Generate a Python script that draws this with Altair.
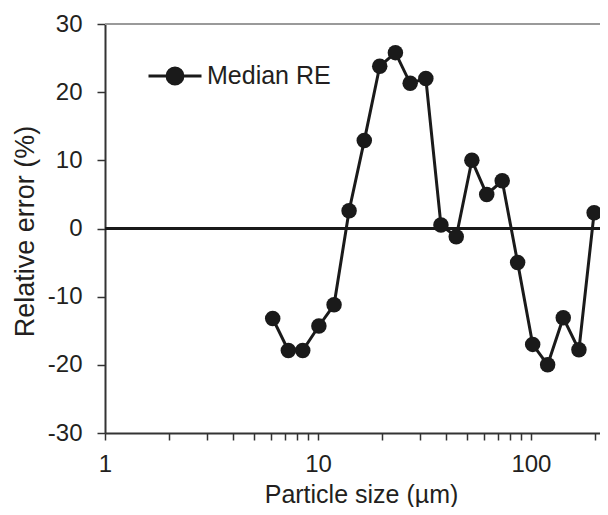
import altair as alt
import pandas as pd

# Particle size (µm) and median relative error (%)
sizes = [6.13, 7.26, 8.48, 10.1, 11.9, 14.0, 16.5, 19.5, 23.1, 27.1, 32.1,
         37.8, 44.6, 52.8, 62.0, 73.3, 86.6, 101.9, 119.8, 141.8, 168.0, 198.0]
median_re = [-13.2, -17.9, -17.9, -14.3, -11.2, 2.6, 12.9, 23.8, 25.8, 21.3, 22.0,
             0.5, -1.2, 10.0, 5.0, 7.0, -5.0, -17.0, -20.0, -13.1, -17.8, 2.3]
series_name = "Median RE"
x_ticks = [1, 2, 3, 4, 5, 6, 7, 8, 9, 10, 20, 30, 40, 50, 60, 70, 80, 90, 100, 200]
y_ticks = [-30, -20, -10, 0, 10, 20, 30]

df = pd.DataFrame({"size": sizes, "re": median_re, "series": series_name})

FONT = "Liberation Sans"
INK = "#1a1a1a"
TXT = "#231f20"

x_scale = alt.Scale(type="log", domain=[1, 211], nice=False)
y_scale = alt.Scale(domain=[-30, 30], nice=False)

x_axis = alt.Axis(
    values=x_ticks,
    labelExpr="(datum.value == 1 || datum.value == 10 || datum.value == 100) ? ('' + datum.value) : ''",
    labelOverlap=False, labelFlush=False, grid=False,
    tickSize=7, tickWidth=1.5, tickColor="#333333",
    domainColor="#333333", domainWidth=2,
    labelFont=FONT, labelFontSize=24, labelColor=TXT, labelPadding=12,
    title="Particle size (µm)", titleFont=FONT, titleFontSize=25, titleFontWeight="normal",
    titleColor=TXT, titleX=256, titleY=69, titleBaseline="alphabetic", titleAlign="center",
)
y_axis = alt.Axis(
    values=y_ticks, grid=False,
    labelExpr="'' + datum.value",
    tickSize=8, tickWidth=1.5, tickColor="#333333",
    domainColor="#333333", domainWidth=2,
    labelFont=FONT, labelFontSize=24, labelColor=TXT, labelPadding=15,
    title="Relative error (%)", titleFont=FONT, titleFontSize=27, titleFontWeight="normal",
    titleColor=TXT, titleX=-72, titleY=207, titleBaseline="alphabetic", titleAlign="center",
    titleAngle=270,
)

base = alt.Chart(df)

top_rule = base.mark_rule(color="#9a9a9a", strokeWidth=2).encode(y=alt.datum(30, scale=y_scale))
zero_rule = base.mark_rule(color=INK, strokeWidth=1.3).encode(y=alt.datum(0, scale=y_scale))

line = base.mark_line(color=INK, strokeWidth=3).encode(
    x=alt.X("size:Q", scale=x_scale, axis=x_axis),
    y=alt.Y("re:Q", scale=y_scale, axis=y_axis),
)

legend_path = "M-1,0L1,0M0.3,0A0.3,0.3,0,1,1,-0.3,0A0.3,0.3,0,1,1,0.3,0Z"

points = base.mark_point(filled=True, opacity=1, size=240).encode(
    x=alt.X("size:Q", scale=x_scale, axis=x_axis),
    y=alt.Y("re:Q", scale=y_scale, axis=y_axis),
    color=alt.Color(
        "series:N",
        scale=alt.Scale(domain=[series_name], range=[INK]),
        legend=alt.Legend(
            title=None, orient="none", legendX=42, legendY=24, padding=0,
            symbolType=legend_path, symbolSize=2809,
            symbolStrokeColor=INK, symbolStrokeWidth=3, symbolFillColor=INK,
            symbolOpacity=1,
            labelFont=FONT, labelFontSize=25, labelColor=TXT, labelOffset=4,
            labelBaseline="middle", labelLimit=300,
        ),
    ),
)

chart = alt.layer(top_rule, zero_rule, line, points).properties(
    width=495, height=409,
    autosize=alt.AutoSizeParams(type="none"),
    padding={"left": 97, "top": 16, "right": 0, "bottom": 74},
).configure_view(stroke=None).configure(background="white")

chart.save("out.html", embed_options={"renderer": "svg", "actions": False})
